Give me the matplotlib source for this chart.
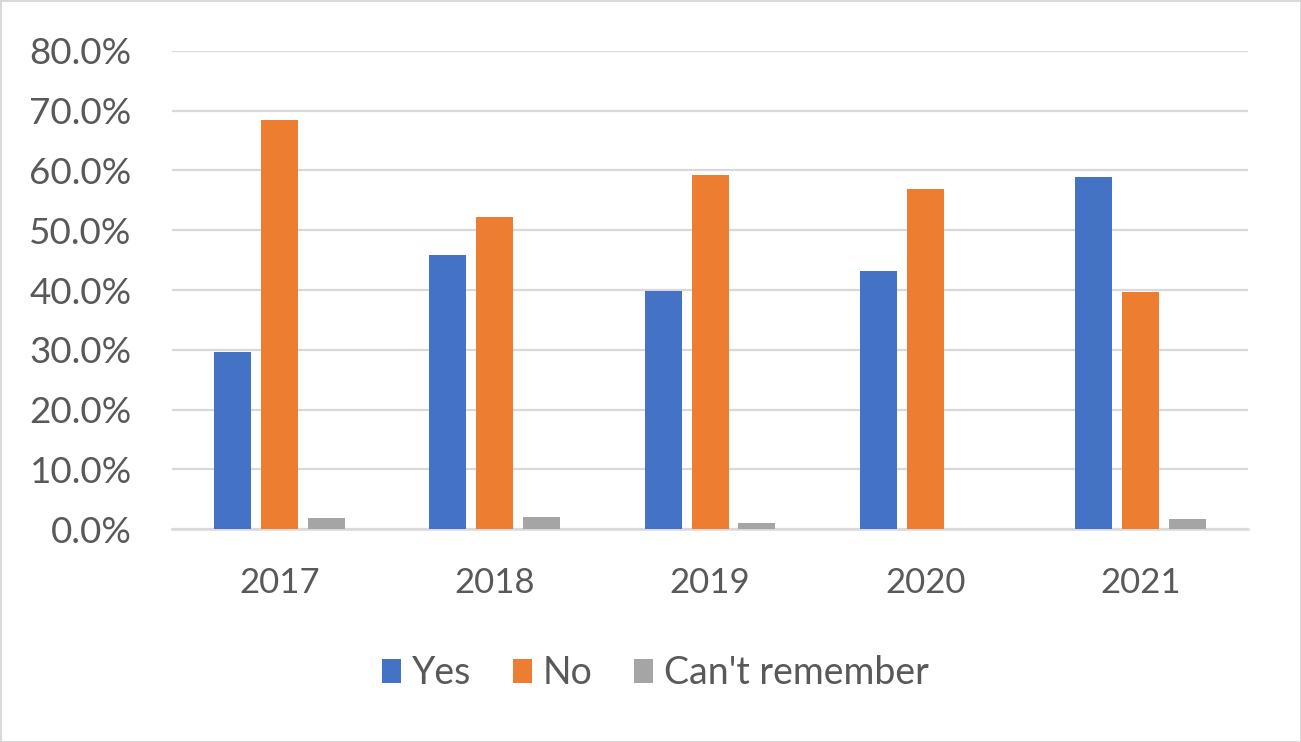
import numpy as np
import matplotlib.pyplot as plt
from matplotlib import rcParams
from matplotlib.ticker import PercentFormatter

rcParams['font.family'] = ['Lato', 'DejaVu Sans']

years = ['2017', '2018', '2019', '2020', '2021']
yes = [29.6, 45.8, 39.9, 43.1, 58.9]
no = [68.5, 52.3, 59.2, 56.9, 39.6]
cant_remember = [1.8, 2.0, 1.0, 0.0, 1.7]

text_col = '#595959'
grid_col = '#D9D9D9'

fig = plt.figure(figsize=(13.01, 7.42), dpi=100)
fig.patch.set_edgecolor(grid_col)
fig.patch.set_linewidth(2)
ax = fig.add_axes([0.1322, 0.287, 0.8271, 0.6443])

x = np.arange(len(years))
w = 0.172
off = 0.218
ax.bar(x - off, yes, w, color='#4472C4', label='Yes', zorder=3)
ax.bar(x, no, w, color='#ED7D31', label='No', zorder=3)
ax.bar(x + off, cant_remember, w, color='#A5A5A5', label="Can't remember", zorder=3)

ax.set_xlim(-0.5, 4.5)
ax.set_ylim(0, 80)
ax.set_yticks(np.arange(0, 81, 10))
ax.yaxis.set_major_formatter(PercentFormatter(decimals=1))
ax.set_xticks(x)
ax.set_xticklabels(years)

ax.grid(axis='y', color=grid_col, linewidth=1.6, zorder=0)
for s in ['top', 'right', 'left']:
    ax.spines[s].set_visible(False)
ax.spines['bottom'].set_color(grid_col)
ax.spines['bottom'].set_linewidth(1.8)
ax.tick_params(axis='both', length=0, labelcolor=text_col)
ax.tick_params(axis='y', pad=29, labelsize=26.5)
ax.tick_params(axis='x', pad=27, labelsize=25)

leg = fig.legend(loc='center', bbox_to_anchor=(0.504, 0.093), ncol=3, frameon=False,
                 fontsize=27, handlelength=0.5, handleheight=0.6, handletextpad=0.3,
                 columnspacing=1.1)
for t in leg.get_texts():
    t.set_color(text_col)

fig.savefig('out.png', dpi=100, edgecolor=fig.get_edgecolor())
